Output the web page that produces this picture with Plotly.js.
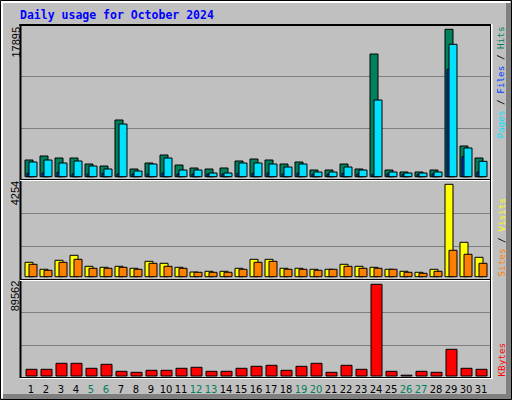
<!DOCTYPE html>
<html>
<head>
<meta charset="utf-8">
<script src="https://cdn.plot.ly/plotly-3.0.1.min.js"></script>
<style>
  html, body { margin: 0; padding: 0; background: #c0c0c0; }
  #chart { width: 512px; height: 400px; }
</style>
</head>
<body>
<div id="chart"></div>
<script>
var days = [1, 2, 3, 4, 5, 6, 7, 8, 9, 10, 11, 12, 13, 14, 15, 16,
            17, 18, 19, 20, 21, 22, 23, 24, 25, 26, 27, 28, 29, 30, 31];
var weekendDays = [5, 6, 12, 13, 19, 20, 26, 27];

var hits = [2027, 2513, 2270, 2270, 1542, 1299, 6883, 935, 1663, 2634, 1420, 1056, 935, 1056, 1906, 2149,
            2027, 1542, 1785, 813, 813, 1542, 935, 14896, 813, 571, 571, 813, 17895, 3727, 2270];
var files = [400, 450, 520, 330, 330, 420, 330, 330, 330, 450, 330, 330, 330, 330, 420, 420,
             450, 330, 420, 300, 300, 400, 330, 300, 330, 250, 250, 330, 13038, 2428, 571];
var pages = [1785, 2027, 1663, 1906, 1299, 935, 6398, 692, 1542, 2270, 813, 813, 449, 449, 1663, 1663,
             1542, 1178, 1542, 571, 571, 1178, 813, 9311, 571, 449, 449, 571, 16073, 3484, 1870];

var visits = [663, 341, 755, 985, 479, 433, 479, 387, 709, 617, 433, 215, 249, 249, 387, 801,
              801, 387, 387, 341, 341, 571, 479, 433, 341, 249, 203, 341, 4254, 1584, 893];
var sites = [571, 295, 663, 801, 387, 387, 433, 341, 617, 479, 387, 203, 203, 203, 341, 663,
             709, 341, 341, 295, 341, 479, 387, 387, 341, 203, 157, 249, 1215, 1031, 617];

var kbytes = [6544, 6544, 12404, 12404, 7521, 11427, 4590, 3614, 5567, 5567, 7521, 8497, 4590, 4590, 7521, 9474,
              10451, 5567, 9474, 12404, 3614, 10451, 6544, 89562, 4590, 800, 4590, 3614, 26078, 7521, 6544];

// pixel frame of the plotting area inside the 512x400 picture
var L = 20, R = 490, T = 25, B = 378;
function px(x) { return (x - L) / (R - L); }
function py(y) { return (B - y) / (B - T); }

var dayPx = 15; // one day slot in pixels
var xRange = [1 - (31 - L) / dayPx, 1 + (R - 31) / dayPx];

var maxHits = Math.max.apply(null, hits);
var maxVisits = Math.max.apply(null, visits);
var maxKB = Math.max.apply(null, kbytes);

var topRange = [-0.0224 * maxHits, 1.0292 * maxHits];
var midRange = [-0.0357 * maxVisits, 1.0465 * maxVisits];
var botRange = [-0.0218 * maxKB, 1.0469 * maxKB];

function thirds(r) {
    var s = (r[1] - r[0]) / 3;
    return [r[0] + s, r[0] + 2 * s];
}

function barTrace(vals, color, off, w, xa, ya) {
    return {
        x: days, y: vals, type: 'bar',
        offset: off / dayPx, width: w / dayPx,
        xaxis: xa, yaxis: ya,
        marker: { color: color, line: { color: '#000000', width: 1 } },
        hoverinfo: 'skip'
    };
}

var data = [
    barTrace(hits, '#00805C', -6, 8, 'x3', 'y3'),
    barTrace(files, '#0040FF', -4, 8, 'x3', 'y3'),
    barTrace(pages, '#00E0FF', -2, 8, 'x3', 'y3'),
    barTrace(visits, '#FFFF00', -6, 8, 'x2', 'y2'),
    barTrace(sites, '#FF8000', -2, 8, 'x2', 'y2'),
    barTrace(kbytes, '#FF0000', -5, 11, 'x', 'y')
];

var tickText = days.map(function (d) {
    return weekendDays.indexOf(d) >= 0 ? '<span style="color:#00805C">' + d + '</span>' : String(d);
});

function xAxis(anchor, labels) {
    return {
        anchor: anchor, range: xRange, domain: [0, 1],
        showgrid: false, zeroline: false, showline: false, fixedrange: true,
        tickmode: 'array', tickvals: days, ticktext: tickText, tickangle: 0,
        showticklabels: labels,
        ticks: labels ? 'outside' : '', ticklen: 2, tickcolor: 'rgba(0,0,0,0)',
        tickfont: { family: 'DejaVu Sans', size: 10, color: '#000000' }
    };
}
function yAxis(anchor, dom, r) {
    return {
        anchor: anchor, domain: dom, range: r,
        tickmode: 'array', tickvals: thirds(r), showticklabels: false,
        showgrid: true, gridcolor: '#808080', gridwidth: 1,
        zeroline: false, showline: false, ticks: '', fixedrange: true
    };
}

var shapes = [];
function hline(x0, x1, y, color, w) {
    shapes.push({ type: 'line', xref: 'paper', yref: 'paper', layer: 'above',
        x0: px(x0), x1: px(x1), y0: py(y), y1: py(y), line: { color: color, width: w } });
}
function vline(x, y0, y1, color, w) {
    shapes.push({ type: 'line', xref: 'paper', yref: 'paper', layer: 'above',
        x0: px(x), x1: px(x), y0: py(y0), y1: py(y1), line: { color: color, width: w } });
}
function box(x0, y0, x1, y1, fill) {
    shapes.push({ type: 'rect', xref: 'paper', yref: 'paper', layer: 'above',
        x0: px(x0), x1: px(x1), y0: py(y0), y1: py(y1), fillcolor: fill, line: { width: 0 } });
}

// outer bevel
box(506, 3, 511, 399, '#808080');
box(3, 394, 511, 399, '#808080');
vline(2, 1, 398, '#FFFFFF', 2);
hline(1, 510, 2, '#FFFFFF', 2);
shapes.push({ type: 'rect', xref: 'paper', yref: 'paper', layer: 'above',
    x0: px(0.5), x1: px(511.5), y0: py(0.5), y1: py(399.5), line: { color: '#000000', width: 1 } });

// panel borders
vline(20.5, 24, 378, '#000000', 2);
hline(19.5, 491, 25, '#000000', 2);
[179, 279, 377].forEach(function (b) {
    hline(20, 491, b + 0.5, '#000000', 1);
    hline(20, 492.5, b + 1.5, '#FFFFFF', 1);
});
vline(490.5, 25, 378, '#000000', 1);
vline(491.75, 24, 379, '#FFFFFF', 1.5);

var valFont = { family: 'Liberation Sans', size: 11, color: '#000000' };
var sideFont = { family: 'DejaVu Sans Mono', size: 9.3, color: '#000000' };
function note(text, x, y, font) {
    return { text: text, xref: 'paper', yref: 'paper', x: px(x), y: py(y),
        xanchor: 'center', yanchor: 'middle', textangle: -90, showarrow: false, font: font };
}

var annotations = [
    note(String(maxHits), 15, 42.5, valFont),
    note(String(maxVisits), 15, 193.3, valFont),
    note(String(maxKB), 15, 296.3, valFont),
    note('<span style="color:#00E0FF">Pages</span> / <span style="color:#0040FF">Files</span> / ' +
         '<span style="color:#00805C">Hits</span>', 500, 82.5, sideFont),
    note('<span style="color:#FF8000">Sites</span> / <span style="color:#FFFF00">Visits</span>',
         501, 237.5, sideFont),
    note('<span style="color:#FF0000">KBytes</span>', 501, 359.5, sideFont)
];

var layout = {
    width: 512, height: 400, autosize: false,
    margin: { l: L, r: 512 - R, t: T, b: 400 - B, pad: 0 },
    paper_bgcolor: '#C0C0C0', plot_bgcolor: '#C0C0C0',
    showlegend: false, barmode: 'overlay', hovermode: false,
    title: {
        text: '<b>Daily usage for October 2024</b>',
        font: { family: 'DejaVu Sans Mono', size: 11.5, color: '#0000FF' },
        xref: 'paper', x: 0, xanchor: 'left',
        yref: 'container', y: 1 - 15 / 400, yanchor: 'middle'
    },
    xaxis: xAxis('y', true),
    xaxis2: xAxis('y2', false),
    xaxis3: xAxis('y3', false),
    yaxis: yAxis('x', [0, py(280)], botRange),
    yaxis2: yAxis('x2', [py(280), py(180)], midRange),
    yaxis3: yAxis('x3', [py(180), 1], topRange),
    shapes: shapes,
    annotations: annotations
};

Plotly.newPlot('chart', data, layout, { staticPlot: true, displayModeBar: false });
</script>
</body>
</html>
